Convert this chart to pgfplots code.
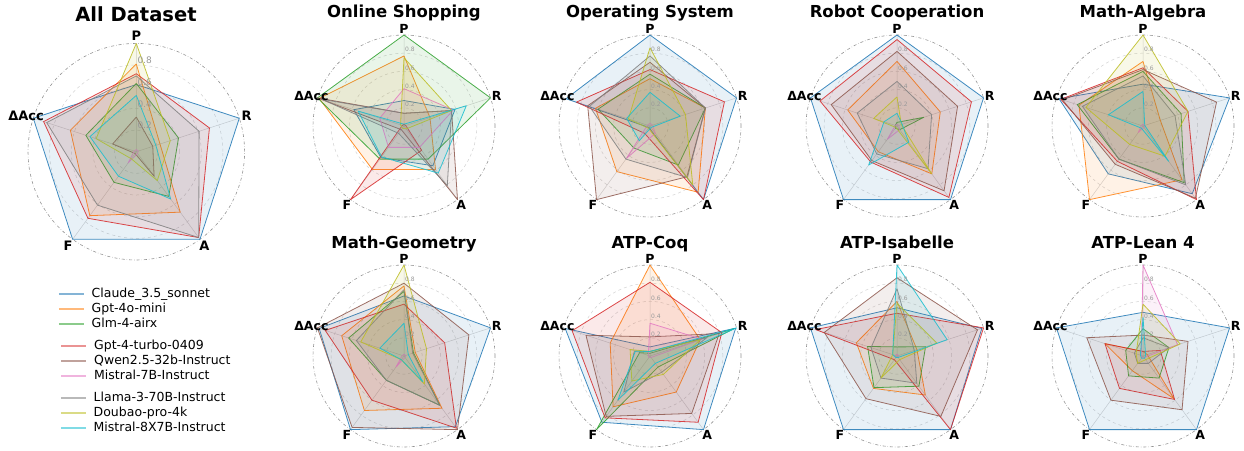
\documentclass[border=0pt]{standalone}
\usepackage{pgfplots}
\pgfplotsset{compat=1.18}
\usepgfplotslibrary{polar}
\usepackage{fontspec}
\setmainfont{DejaVu Sans}
\definecolor{c0}{HTML}{1F77B4}
\definecolor{c1}{HTML}{FF7F0E}
\definecolor{c2}{HTML}{2CA02C}
\definecolor{c3}{HTML}{D62728}
\definecolor{c5}{HTML}{8C564B}
\definecolor{c6}{HTML}{E377C2}
\definecolor{c7}{HTML}{7F7F7F}
\definecolor{c8}{HTML}{BCBD22}
\definecolor{c9}{HTML}{17BECF}
\pgfplotsset{
 radar/.style={
  scale only axis, anchor=center,
  xmin=0, xmax=360, ymin=0, ymax=1,
  xtick={18,90,162,234,306}, xticklabels={},
  ytick={0.2,0.4,0.6,0.8}, yticklabels={},
  major tick length=0pt,
  xmajorgrids, ymajorgrids,
  x grid style={gray!35, line width=0.5pt},
  y grid style={gray!35, dashed, line width=0.5pt},
  x axis line style={gray!85, dash dot, line width=0.6pt},
  y axis line style={draw=none},
  clip=false,
 },
 small/.style={radar, width=182pt, height=182pt},
 ser/.style={draw=#1, fill=#1, fill opacity=0.1, draw opacity=0.85, line width=0.8pt, line join=round},
}
% P, R, A, F, DeltaAcc
\newcommand{\rd}[6]{\addplot[#1] coordinates {(90,#2) (18,#3) (306,#4) (234,#5) (162,#6) (90,#2)};}
\newcommand{\rlabels}[2]{%
 \node[font=\bfseries\fontsize{#1}{#1}\selectfont, inner sep=0pt] at (axis cs:90,1.07) {P};
 \node[font=\bfseries\fontsize{#1}{#1}\selectfont, inner sep=0pt] at (axis cs:18,1.07) {R};
 \node[font=\bfseries\fontsize{#1}{#1}\selectfont, inner sep=0pt] at (axis cs:306,1.07) {A};
 \node[font=\bfseries\fontsize{#1}{#1}\selectfont, inner sep=0pt] at (axis cs:234,1.07) {F};
 \node[font=\bfseries\fontsize{#1}{#1}\selectfont, inner sep=0pt] at (axis cs:162,1.07) {ΔAcc};
 \node[anchor=south west, inner sep=1pt, text=gray!80, font=\fontsize{#2}{#2}\selectfont] at (axis cs:90,0.2) {0.2};
 \node[anchor=south west, inner sep=1pt, text=gray!80, font=\fontsize{#2}{#2}\selectfont] at (axis cs:90,0.4) {0.4};
 \node[anchor=south west, inner sep=1pt, text=gray!80, font=\fontsize{#2}{#2}\selectfont] at (axis cs:90,0.6) {0.6};
 \node[anchor=south west, inner sep=1pt, text=gray!80, font=\fontsize{#2}{#2}\selectfont] at (axis cs:90,0.8) {0.8};
}
\begin{document}
\begin{tikzpicture}
\useasboundingbox (0,0) rectangle (1244pt,-450pt);
% titles
\node[anchor=base, font=\bfseries\fontsize{19.5}{20}\selectfont] at (136pt,-21pt) {All Dataset};
\node[anchor=base, font=\bfseries\fontsize{16.5}{17}\selectfont] at (404pt,-17pt) {Online Shopping};
\node[anchor=base, font=\bfseries\fontsize{16.5}{17}\selectfont] at (650pt,-17pt) {Operating System};
\node[anchor=base, font=\bfseries\fontsize{16.5}{17}\selectfont] at (897pt,-17pt) {Robot Cooperation};
\node[anchor=base, font=\bfseries\fontsize{16.5}{17}\selectfont] at (1143pt,-17pt) {Math-Algebra};
\node[anchor=base, font=\bfseries\fontsize{16.5}{17}\selectfont] at (404pt,-248pt) {Math-Geometry};
\node[anchor=base, font=\bfseries\fontsize{16.5}{17}\selectfont] at (650pt,-248pt) {ATP-Coq};
\node[anchor=base, font=\bfseries\fontsize{16.5}{17}\selectfont] at (897pt,-248pt) {ATP-Isabelle};
\node[anchor=base, font=\bfseries\fontsize{16.5}{17}\selectfont] at (1143pt,-248pt) {ATP-Lean 4};

% All Dataset
\begin{polaraxis}[radar, width=216.6pt, height=216.6pt, at={(136.3pt,-151.7pt)}]
\rd{ser=c0}{0.62}{1.0}{1.0}{1.0}{1.0}
\rd{ser=c1}{0.81}{0.23}{0.69}{0.73}{0.64}
\rd{ser=c2}{0.63}{0.41}{0.51}{0.35}{0.49}
\rd{ser=c3}{0.72}{0.71}{0.98}{0.76}{0.90}
\rd{ser=c5}{0.32}{0.16}{0.28}{0.02}{0.23}
\rd{ser=c6}{0.02}{0.02}{0.02}{0.13}{0.02}
\rd{ser=c7}{0.70}{0.61}{0.98}{0.61}{0.87}
\rd{ser=c8}{1.0}{0.33}{0.33}{0.08}{0.39}
\rd{ser=c9}{0.52}{0.19}{0.54}{0.28}{0.45}
\rlabels{13}{9}
\end{polaraxis}

% Online Shopping
\begin{polaraxis}[small, at={(404pt,-126pt)}]
\rd{ser=c0}{0.28}{0.59}{0.54}{0.43}{0.58}
\rd{ser=c1}{0.77}{0.30}{0.59}{0.59}{0.98}
\rd{ser=c2}{1.0}{1.0}{0.45}{0.45}{1.0}
\rd{ser=c3}{0.02}{0.02}{0.33}{1.0}{0.02}
\rd{ser=c5}{0.14}{0.55}{1.0}{0.05}{1.0}
\rd{ser=c6}{0.41}{0.57}{0.29}{0.29}{0.28}
\rd{ser=c7}{0.14}{0.55}{0.81}{0.10}{0.95}
\rd{ser=c8}{0.75}{0.55}{0.04}{0.03}{0.04}
\rd{ser=c9}{0.02}{0.72}{0.64}{0.42}{0.53}
\rlabels{12.5}{6}
\end{polaraxis}

% Operating System
\begin{polaraxis}[small, at={(650pt,-126pt)}]
\rd{ser=c0}{1.0}{1.0}{1.0}{0.02}{0.97}
\rd{ser=c1}{0.52}{0.64}{0.90}{0.62}{0.63}
\rd{ser=c2}{0.57}{0.64}{0.53}{0.30}{0.60}
\rd{ser=c3}{0.62}{0.86}{1.0}{0.10}{0.85}
\rd{ser=c5}{0.70}{0.64}{0.69}{1.0}{0.72}
\rd{ser=c6}{0.03}{0.03}{0.10}{0.44}{0.03}
\rd{ser=c7}{0.77}{0.64}{0.70}{0.45}{0.70}
\rd{ser=c8}{0.86}{0.41}{0.80}{0.03}{0.25}
\rd{ser=c9}{0.37}{0.35}{0.02}{0.20}{0.27}
\rlabels{12.5}{6}
\end{polaraxis}

% Robot Cooperation
\begin{polaraxis}[small, at={(897pt,-126pt)}]
\rd{ser=c0}{1.0}{1.0}{1.0}{1.0}{1.0}
\rd{ser=c1}{0.71}{0.50}{0.65}{0.35}{0.57}
\rd{ser=c2}{0.04}{0.31}{0.05}{0.03}{0.02}
\rd{ser=c3}{0.95}{0.86}{0.97}{0.49}{0.89}
\rd{ser=c5}{0.82}{0.70}{0.88}{0.47}{0.76}
\rd{ser=c6}{0.02}{0.02}{0.05}{0.18}{0.02}
\rd{ser=c7}{0.49}{0.40}{0.58}{0.38}{0.46}
\rd{ser=c8}{0.32}{0.05}{0.65}{0.02}{0.27}
\rd{ser=c9}{0.14}{0.06}{0.22}{0.53}{0.15}
\rlabels{12.5}{6}
\end{polaraxis}

% Math-Algebra
\begin{polaraxis}[small, at={(1143pt,-126pt)}]
\rd{ser=c0}{0.46}{1.0}{0.92}{0.65}{0.97}
\rd{ser=c1}{0.71}{0.20}{0.73}{1.0}{0.74}
\rd{ser=c2}{0.60}{0.44}{0.77}{0.45}{0.76}
\rd{ser=c3}{0.64}{0.52}{1.0}{0.48}{0.95}
\rd{ser=c5}{0.62}{0.85}{0.98}{0.52}{0.93}
\rd{ser=c6}{0.02}{0.02}{0.02}{0.09}{0.02}
\rd{ser=c7}{0.55}{0.37}{0.80}{0.45}{0.70}
\rd{ser=c8}{1.0}{0.52}{0.41}{0.25}{0.66}
\rd{ser=c9}{0.38}{0.02}{0.48}{0.03}{0.40}
\rlabels{12.5}{6}
\end{polaraxis}

% Math-Geometry
\begin{polaraxis}[small, at={(404pt,-356pt)}]
\rd{ser=c0}{0.66}{1.0}{0.96}{1.0}{0.98}
\rd{ser=c1}{0.77}{0.13}{0.71}{0.74}{0.72}
\rd{ser=c2}{0.71}{0.11}{0.67}{0.33}{0.64}
\rd{ser=c3}{0.57}{0.47}{0.98}{0.60}{0.91}
\rd{ser=c5}{0.80}{0.75}{1.0}{0.97}{1.0}
\rd{ser=c6}{0.02}{0.02}{0.02}{0.15}{0.02}
\rd{ser=c7}{0.73}{0.10}{0.67}{0.33}{0.55}
\rd{ser=c8}{1.0}{0.26}{0.38}{0.05}{0.50}
\rd{ser=c9}{0.36}{0.05}{0.35}{0.05}{0.28}
\rlabels{12.5}{6}
\end{polaraxis}

% ATP-Coq
\begin{polaraxis}[small, at={(650pt,-356pt)}]
\rd{ser=c0}{0.10}{0.99}{1.0}{0.90}{0.98}
\rd{ser=c1}{1.0}{0.58}{0.49}{0.69}{0.46}
\rd{ser=c2}{0.03}{0.97}{0.15}{1.0}{0.12}
\rd{ser=c3}{0.81}{0.83}{0.90}{0.84}{0.90}
\rd{ser=c5}{0.21}{0.80}{0.78}{0.82}{0.74}
\rd{ser=c6}{0.36}{0.60}{0.02}{0.02}{0.02}
\rd{ser=c7}{0.05}{0.66}{0.22}{0.49}{0.18}
\rd{ser=c8}{0.05}{0.58}{0.25}{0.34}{0.23}
\rd{ser=c9}{0.05}{1.0}{0.10}{0.60}{0.17}
\rlabels{12.5}{6}
\end{polaraxis}

% ATP-Isabelle
\begin{polaraxis}[small, at={(897pt,-356pt)}]
\rd{ser=c0}{0.53}{0.98}{1.0}{1.0}{1.0}
\rd{ser=c1}{0.60}{0.23}{0.53}{0.44}{0.47}
\rd{ser=c2}{0.10}{0.33}{0.41}{0.43}{0.34}
\rd{ser=c3}{0.47}{1.0}{1.0}{0.05}{0.94}
\rd{ser=c5}{0.86}{0.93}{0.82}{0.58}{0.84}
\rd{ser=c6}{0.02}{0.02}{0.02}{0.02}{0.02}
\rd{ser=c7}{0.74}{0.20}{0.37}{0.30}{0.30}
\rd{ser=c8}{0.58}{0.46}{0.05}{0.30}{0.05}
\rd{ser=c9}{1.0}{0.58}{0.02}{0.02}{0.05}
\rlabels{12.5}{6}
\end{polaraxis}

% ATP-Lean 4
\begin{polaraxis}[small, at={(1143pt,-356pt)}]
\rd{ser=c0}{0.48}{1.0}{1.0}{1.0}{1.0}
\rd{ser=c1}{0.05}{0.05}{0.58}{0.20}{0.44}
\rd{ser=c2}{0.30}{0.30}{0.30}{0.27}{0.20}
\rd{ser=c3}{0.05}{0.20}{0.59}{0.44}{0.44}
\rd{ser=c5}{0.23}{0.52}{0.73}{0.60}{0.65}
\rd{ser=c6}{1.0}{0.40}{0.02}{0.02}{0.02}
\rd{ser=c7}{0.20}{0.30}{0.10}{0.10}{0.10}
\rd{ser=c8}{0.57}{0.43}{0.05}{0.10}{0.08}
\rd{ser=c9}{0.43}{0.03}{0.03}{0.03}{0.03}
\rlabels{12.5}{6}
\end{polaraxis}

% legends
\pgfplotsset{leg/.style={hide axis, scale only axis, width=1pt, height=1pt, xmin=0, xmax=1, ymin=0, ymax=1, anchor=north west,
 legend style={at={(0,1)}, anchor=north west, draw=none, fill=none, inner sep=0pt, row sep=3pt, column sep=7pt,
  font=\fontsize{12.5}{14}\selectfont, nodes={inner sep=0pt, text height=9pt, text depth=3pt}},
 legend cell align=left,
 legend image code/.code={\draw[##1] (0pt,0pt) -- (25pt,0pt);}}}
\begin{axis}[leg, at={(58pt,-288pt)}]
\addlegendimage{c0, line width=1.5pt, opacity=0.55}
\addlegendentry{Claude\_3.5\_sonnet}
\addlegendimage{c1, line width=1.5pt, opacity=0.55}
\addlegendentry{Gpt-4o-mini}
\addlegendimage{c2, line width=1.5pt, opacity=0.55}
\addlegendentry{Glm-4-airx}
\end{axis}
\begin{axis}[leg, at={(60pt,-340pt)}]
\addlegendimage{c3, line width=2pt, opacity=0.5}
\addlegendentry{Gpt-4-turbo-0409}
\addlegendimage{c5, line width=1.5pt, opacity=0.55}
\addlegendentry{Qwen2.5-32b-Instruct}
\addlegendimage{c6, line width=1.5pt, opacity=0.55}
\addlegendentry{Mistral-7B-Instruct}
\end{axis}
\begin{axis}[leg, at={(60pt,-392pt)}]
\addlegendimage{c7, line width=1.5pt, opacity=0.55}
\addlegendentry{Llama-3-70B-Instruct}
\addlegendimage{c8, line width=1.5pt, opacity=0.55}
\addlegendentry{Doubao-pro-4k}
\addlegendimage{c9, line width=1.5pt, opacity=0.55}
\addlegendentry{Mistral-8X7B-Instruct}
\end{axis}
\end{tikzpicture}
\end{document}
